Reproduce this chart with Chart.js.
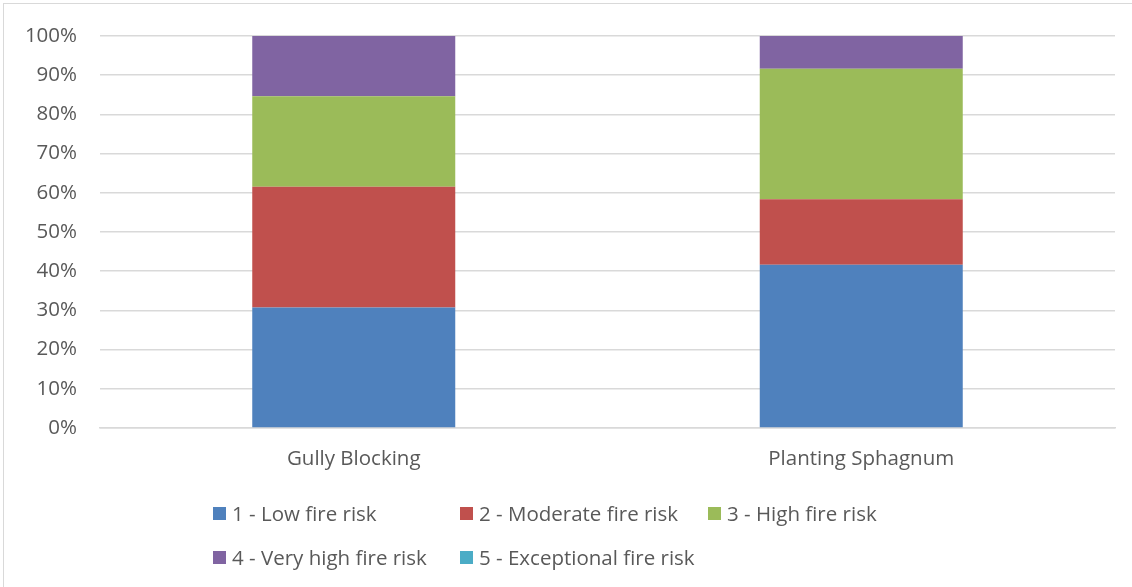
<!DOCTYPE html>
<html>
<head>
<meta charset="utf-8">
<script src="https://cdn.jsdelivr.net/npm/chart.js@4/dist/chart.umd.min.js"></script>
<style>
  html, body { margin: 0; padding: 0; background: #fff; }
  #wrap { position: relative; width: 1132px; height: 587px; overflow: hidden; }
  #frame { position: absolute; left: 3px; top: 3px; width: 1140px; height: 600px; border: 1px solid #d9d9d9; box-sizing: border-box; pointer-events: none; }
  canvas { position: absolute; left: 0; top: 0; }
  #legend { position: absolute; left: 213px; top: 499px; width: 760px; font-family: "Open Sans", "Liberation Sans", sans-serif; font-size: 20.5px; color: #595959; }
  .item { position: absolute; white-space: nowrap; line-height: 28px; height: 28px; }
  .box { display: inline-block; width: 13px; height: 13px; vertical-align: middle; margin-right: 6px; position: relative; top: -2px; }
</style>
</head>
<body>
<div id="wrap">
  <canvas id="c" width="1132" height="587"></canvas>
  <div id="frame"></div>
  <div id="legend"></div>
</div>
<script>
const categories = ["Gully Blocking", "Planting Sphagnum"];
const seriesLabels = ["1 - Low fire risk", "2 - Moderate fire risk", "3 - High fire risk", "4 - Very high fire risk", "5 - Exceptional fire risk"];
const lowRisk = [30.77, 41.67];
const moderateRisk = [30.77, 16.67];
const highRisk = [23.08, 33.33];
const veryHighRisk = [15.38, 8.33];
const exceptionalRisk = [0, 0];
const yTicks = [0, 10, 20, 30, 40, 50, 60, 70, 80, 90, 100];
const colors = ["#4F81BD", "#C0504D", "#9BBB59", "#8064A2", "#4BACC6"];

const seriesValues = [lowRisk, moderateRisk, highRisk, veryHighRisk, exceptionalRisk];
const datasets = seriesValues.map((vals, i) => ({
  label: seriesLabels[i],
  data: vals,
  backgroundColor: colors[i],
  borderWidth: 0,
  categoryPercentage: 0.4,
  barPercentage: 1.0
}));

const fontFamily = '"Open Sans", "Liberation Sans", sans-serif';

new Chart(document.getElementById('c'), {
  type: 'bar',
  data: { labels: categories, datasets },
  options: {
    responsive: false,
    animation: false,
    layout: { padding: { top: 36, right: 17, bottom: 109, left: 0 } },
    plugins: { legend: { display: false }, tooltip: { enabled: false } },
    scales: {
      x: {
        stacked: true,
        grid: { display: false, drawTicks: false },
        border: { display: true, color: '#d9d9d9', width: 1.5 },
        ticks: { color: '#595959', font: { family: fontFamily, size: 20.5 }, padding: 19 },
        afterFit: (s) => { s.height = 50; }
      },
      y: {
        stacked: true,
        min: 0, max: 100,
        afterBuildTicks: (s) => { s.ticks = yTicks.map(v => ({ value: v })); },
        grid: { color: '#d9d9d9', lineWidth: 1.5, drawTicks: false },
        border: { display: false },
        ticks: { color: '#595959', font: { family: fontFamily, size: 20.5 }, padding: 23, callback: (v) => v + '%' },
        afterFit: (s) => { s.width = 100; }
      }
    }
  }
});

const legend = document.getElementById('legend');
const positions = [[0, 0], [247, 0], [495, 0], [0, 44], [247, 44]];
seriesLabels.forEach((lab, i) => {
  const d = document.createElement('div');
  d.className = 'item';
  d.style.left = positions[i][0] + 'px';
  d.style.top = positions[i][1] + 'px';
  d.innerHTML = '<span class="box" style="background:' + colors[i] + '"></span>' + lab;
  legend.appendChild(d);
});
</script>
</body>
</html>
